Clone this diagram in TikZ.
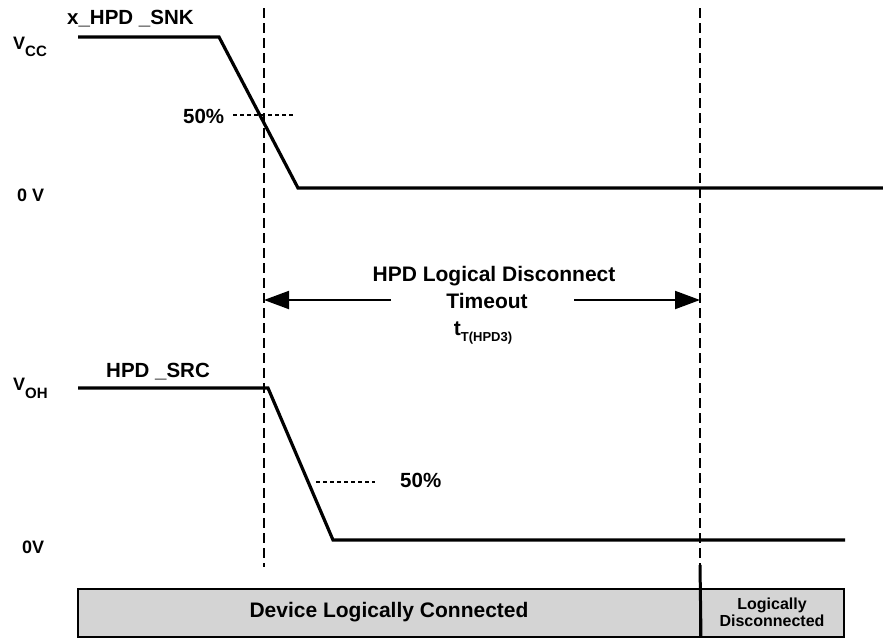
\documentclass[tikz,border=0pt]{standalone}
\usepackage{fontspec}
\setmainfont{Liberation Sans}
\usetikzlibrary{arrows.meta, positioning}

\newcommand{\lowidx}[3][7pt]{\raisebox{-#1}{\fontsize{#2}{#2}\selectfont #3}}

\begin{document}
\begin{tikzpicture}[x=1pt, y=-1pt,
            wave/.style={line width=3.2pt, line join=miter},
            guide/.style={line width=1.5pt, dash pattern=on 10pt off 5pt},
            level/.style={line width=1.2pt, dash pattern=on 4pt off 3pt},
            lbl/.style={font=\fontsize{20.5}{22}\selectfont\bfseries, inner sep=0pt, anchor=base west},
            vlbl/.style={lbl, font=\fontsize{18}{20}\selectfont\bfseries},
            txt/.style={font=\fontsize{21}{23}\selectfont\bfseries, inner sep=0pt, anchor=base},
            span/.style={line width=2pt, -{Triangle[length=25pt, width=18pt]}},
            bar/.style={draw, line width=2pt, fill=gray!34, minimum height=48pt, inner sep=0pt}
        ]
        \useasboundingbox (0,0) rectangle (883,638);

        % Waveform corners
        \coordinate (s0) at (78,37);
        \coordinate (s1) at (219,37);
        \coordinate (s2) at (298,188);
        \coordinate (s3) at (883,188);
        \coordinate (r0) at (78,388);
        \coordinate (r1) at (268,388);
        \coordinate (r2) at (333,540);
        \coordinate (r3) at (845,540);

        % Guide ends
        \coordinate (ga) at (264,8);
        \coordinate (gb) at (264,567);
        \coordinate (gc) at (700,8);
        \coordinate (gd) at (700,565);

        % Labels
        \node[lbl] (snk) at (67,24) {x\_HPD \_SNK};
        \node[vlbl] (vcc) at (13,49) {V\lowidx[7.5pt]{15}{CC}};
        \node[vlbl] (zs) at (17,201) {0 V};
        \node[lbl] (pa) at (183,123) {50\%};

        \node[lbl] (src) at (106,377) {HPD \_SRC};
        \node[vlbl] (voh) at (13,390) {V\lowidx[8pt]{15}{OH}};
        \node[vlbl] (zr) at (22,553) {0V};
        \node[lbl] (pb) at (400,487) {50\%};

        \node[txt] (ttl) at (494,281) {HPD Logical Disconnect};
        \node[txt] (tmo) at (487,308) {Timeout};
        \node[txt] (tt) at (483,335) {t\lowidx[6pt]{13}{T(HPD3)}};

        % 50% marks
        \coordinate (pa1) at (233,115);
        \coordinate (pa2) at (293,115);
        \coordinate (pb1) at (316,482);
        \coordinate (pb2) at (375,482);

        % Timeout arrows
        \coordinate (la) at (391,300);
        \coordinate (lb) at (264,300);
        \coordinate (ra) at (574,300);
        \coordinate (rb) at (700,300);

        % Status bar
        \node[bar, minimum width=622pt, font=\fontsize{21}{23}\selectfont\bfseries] (conn) at (389,612.5) {Device Logically Connected};
        \node[bar, minimum width=144pt, align=center, font=\fontsize{16}{17}\selectfont\bfseries] (disc) at (772,612.5) {Logically\\Disconnected};

        % Edges
        \draw[guide] (ga) -- (gb);
        \draw[guide] (gc) -- (gd);
        \draw[line width=3pt] (gd) -- (conn.south east);

        \draw[wave] (s0) -- (s1) -- (s2) -- (s3);
        \draw[wave] (r0) -- (r1) -- (r2) -- (r3);

        \draw[level] (pa1) -- (pa2);
        \draw[level] (pb1) -- (pb2);

        \draw[span] (la) -- (lb);
        \draw[span] (ra) -- (rb);

    \end{tikzpicture}
\end{document}
